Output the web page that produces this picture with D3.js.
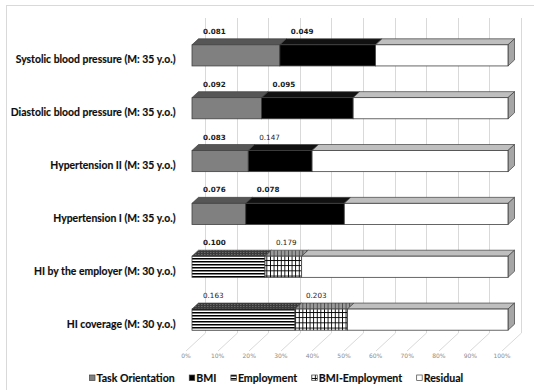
<!DOCTYPE html>
<html>
<head>
<meta charset="utf-8">
<script src="https://cdn.jsdelivr.net/npm/d3@7"></script>
<style>
  html, body { margin: 0; padding: 0; background: #fff; }
  svg { display: block; }
</style>
</head>
<body>
<div id="chart"></div>
<script>
// ---- data -------------------------------------------------------------
const categories = [
  "Systolic blood pressure (M: 35 y.o.)",
  "Diastolic blood pressure (M: 35 y.o.)",
  "Hypertension II (M: 35 y.o.)",
  "Hypertension I (M: 35 y.o.)",
  "HI by the employer (M: 30 y.o.)",
  "HI coverage (M: 30 y.o.)"
];
const seriesNames = ["Task Orientation", "BMI", "Employment", "BMI-Employment", "Residual"];

// share of each component, in percent of the bar
const taskOrientation = [27.8, 22.0, 17.8, 17.0, 0, 0];
const bmi             = [30.3, 29.0, 20.2, 31.2, 0, 0];
const employment      = [0, 0, 0, 0, 23.1, 32.6];
const bmiEmployment   = [0, 0, 0, 0, 11.6, 16.6];
const residual        = [41.9, 49.0, 62.0, 51.8, 65.3, 50.8];

// coefficients printed above each bar (first and second component)
const firstCoef   = ["0.081", "0.092", "0.083", "0.076", "0.100", "0.163"];
const secondCoef  = ["0.049", "0.095", "0.147", "0.078", "0.179", "0.203"];
const firstBold   = [true, true, true, true, true, false];
const secondBold  = [true, true, false, true, false, false];

const tickValues = [0, 10, 20, 30, 40, 50, 60, 70, 80, 90, 100];

// ---- layout -----------------------------------------------------------
const W = 534, H = 390;
const dx = 6.5, dy = 6;            // one step of depth (oblique projection)
const wallTop = 18, wallBottom = 333;

const svg = d3.select("#chart").append("svg")
  .attr("width", W).attr("height", H)
  .attr("viewBox", `0 0 ${W} ${H}`);

const defs = svg.append("defs");
// horizontal stripes
const pH = defs.append("pattern").attr("id", "hlines")
  .attr("patternUnits", "userSpaceOnUse").attr("width", 4).attr("height", 3);
pH.append("rect").attr("width", 4).attr("height", 3).attr("fill", "#fff");
pH.append("rect").attr("y", 0).attr("width", 4).attr("height", 1.5).attr("fill", "#000");
// stripes seen on the top face
const pHt = defs.append("pattern").attr("id", "hlinesTop")
  .attr("patternUnits", "userSpaceOnUse").attr("width", 3).attr("height", 2);
pHt.append("rect").attr("width", 3).attr("height", 2).attr("fill", "#3a3a3a");
pHt.append("rect").attr("width", 1.5).attr("height", 1).attr("fill", "#6a6a6a");
// grid
const pG = defs.append("pattern").attr("id", "grid")
  .attr("patternUnits", "userSpaceOnUse").attr("width", 3.6).attr("height", 5.2);
pG.append("rect").attr("width", 3.6).attr("height", 5.2).attr("fill", "#fff");
pG.append("rect").attr("x", 0).attr("width", 0.9).attr("height", 5.2).attr("fill", "#000");
pG.append("rect").attr("y", 0).attr("width", 3.6).attr("height", 0.9).attr("fill", "#000");
// grid seen on the top face
const pGt = defs.append("pattern").attr("id", "gridTop")
  .attr("patternUnits", "userSpaceOnUse").attr("width", 3.6).attr("height", 3);
pGt.append("rect").attr("width", 3.6).attr("height", 3).attr("fill", "#9a9a9a");
pGt.append("rect").attr("x", 0).attr("width", 0.9).attr("height", 3).attr("fill", "#4a4a4a");

// outer chart frame
svg.append("rect")
  .attr("x", 6.5).attr("y", 5.5).attr("width", 600).attr("height", 500)
  .attr("fill", "#fff").attr("stroke", "#d9d9d9").attr("stroke-width", 1);

// scales: front face of the bars, back wall is two depth steps behind
const xFront = d3.scaleLinear().domain([0, 100]).range([192, 508]);
const xBack = v => xFront(v) + 2 * dx;
const yBand = d3.scaleBand().domain(categories)
  .range([wallTop, wallBottom]).paddingInner(0.6).paddingOuter(0.28);

// ---- back wall and floor gridlines -------------------------------------
const grid = svg.append("g").attr("stroke", "#d9d9d9").attr("stroke-width", 1).attr("fill", "none");
tickValues.forEach(v => {
  const xb = Math.round(xBack(v)) + 0.5;
  grid.append("line")
    .attr("x1", xb).attr("x2", xb).attr("y1", wallTop).attr("y2", wallBottom);
  grid.append("line")
    .attr("x1", xb).attr("y1", wallBottom)
    .attr("x2", xb - 3 * dx).attr("y2", wallBottom + 3 * dy);
});

// axis labels along the front edge of the floor
const xAxis = d3.axisBottom(d3.scaleLinear().domain([0, 100]).range([xBack(0) - 3 * dx, xBack(100) - 3 * dx]))
  .tickValues(tickValues).tickFormat(d => d + "%").tickSize(0).tickPadding(0);
const axisG = svg.append("g").attr("transform", `translate(0, ${wallBottom + 3 * dy + 1.5})`).call(xAxis);
axisG.select(".domain").remove();
axisG.selectAll("text")
  .attr("font-family", "DejaVu Sans, sans-serif").attr("font-size", 6)
  .attr("fill", "#8c8c8c").attr("dy", "0.9em");

// ---- stacked 3D bars ---------------------------------------------------
const rows = categories.map((c, i) => ({
  category: c,
  "Task Orientation": taskOrientation[i],
  "BMI": bmi[i],
  "Employment": employment[i],
  "BMI-Employment": bmiEmployment[i],
  "Residual": residual[i]
}));
const stacked = d3.stack().keys(seriesNames)(rows);

const style = {
  "Task Orientation": { front: "#808080", top: "#565656", side: "#666" },
  "BMI":              { front: "#000000", top: "#111111", side: "#000" },
  "Employment":       { front: "url(#hlines)", top: "url(#hlinesTop)", side: "#333" },
  "BMI-Employment":   { front: "url(#grid)", top: "url(#gridTop)", side: "#888" },
  "Residual":         { front: "#ffffff", top: "#bfbfbf", side: "#a6a6a6" }
};
const edge = "#404040";

const bars = svg.append("g");
categories.forEach((cat, i) => {
  const yF = yBand(cat) + 2 * dy;        // front face top
  const h = yBand.bandwidth();
  const g = bars.append("g");
  const segs = stacked.map(s => ({ key: s.key, x0: s[i][0], x1: s[i][1] }))
    .filter(s => s.x1 - s.x0 > 0);
  // top faces
  segs.forEach(s => {
    const a = xFront(s.x0), b = xFront(s.x1);
    g.append("polygon")
      .attr("points", [[a, yF], [a + dx, yF - dy], [b + dx, yF - dy], [b, yF]].join(" "))
      .attr("fill", style[s.key].top).attr("stroke", edge).attr("stroke-width", 0.7)
      .attr("stroke-linejoin", "round");
  });
  // right face of the last segment
  const last = segs[segs.length - 1];
  const r = xFront(last.x1);
  g.append("polygon")
    .attr("points", [[r, yF], [r + dx, yF - dy], [r + dx, yF + h - dy], [r, yF + h]].join(" "))
    .attr("fill", style[last.key].side).attr("stroke", edge).attr("stroke-width", 0.7)
    .attr("stroke-linejoin", "round");
  // front faces
  segs.forEach(s => {
    const a = xFront(s.x0), b = xFront(s.x1);
    g.append("rect")
      .attr("x", a).attr("y", yF).attr("width", b - a).attr("height", h)
      .attr("fill", style[s.key].front).attr("stroke", edge).attr("stroke-width", 0.8);
  });
  // coefficients above the bar, starting at each component on the back wall
  const labs = [
    { text: firstCoef[i], bold: firstBold[i], at: segs[0].x0 },
    { text: secondCoef[i], bold: secondBold[i], at: segs[1].x0 }
  ];
  labs.forEach(l => {
    g.append("text")
      .attr("x", xBack(l.at) - 2).attr("y", yF - dy - 5)
      .attr("font-family", "DejaVu Sans, sans-serif").attr("font-size", 7.2)
      .attr("font-weight", l.bold ? "bold" : "normal")
      .attr("fill", "#1a1a1a")
      .text(l.text);
  });
  // category label
  svg.append("text")
    .attr("x", 175.5).attr("y", yF + h / 2 + 4)
    .attr("text-anchor", "end").attr("dominant-baseline", "central")
    .attr("font-family", "Lato, 'Open Sans', sans-serif").attr("font-weight", 700)
    .attr("font-size", 10.4).attr("fill", "#0d0d0d")
    .attr("stroke", "#0d0d0d").attr("stroke-width", 0.15)
    .text(cat);
});

// ---- legend -----------------------------------------------------------
const legendFill = {
  "Task Orientation": "#808080", "BMI": "#000", "Employment": "url(#hlines)",
  "BMI-Employment": "url(#grid)", "Residual": "#fff"
};
const legend = svg.append("g").attr("transform", "translate(89, 378)");
let lx = 0;
seriesNames.forEach(name => {
  const item = legend.append("g").attr("transform", `translate(${lx}, 0)`);
  item.append("rect").attr("x", 0.5).attr("y", -3).attr("width", 5.5).attr("height", 5.5)
    .attr("fill", legendFill[name]).attr("stroke", "#404040").attr("stroke-width", 0.7);
  const t = item.append("text").attr("x", 7.5).attr("y", 0)
    .attr("dominant-baseline", "central")
    .attr("font-family", "Lato, 'Open Sans', sans-serif").attr("font-weight", 700)
    .attr("font-size", 10.6).attr("fill", "#0d0d0d")
    .attr("stroke", "#0d0d0d").attr("stroke-width", 0.15)
    .text(name);
  lx += 7.5 + t.node().getComputedTextLength() + 14;
});
</script>
</body>
</html>
